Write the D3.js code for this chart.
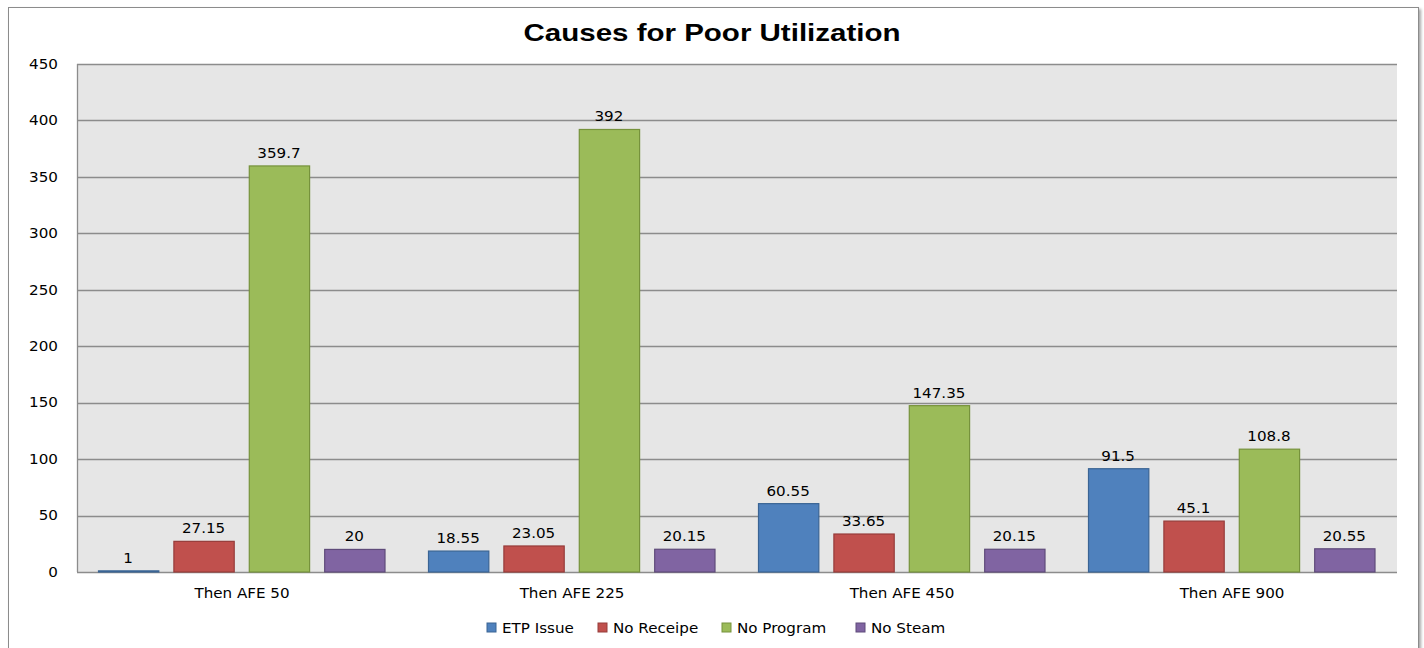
<!DOCTYPE html>
<html>
<head>
<meta charset="utf-8">
<script src="https://cdn.jsdelivr.net/npm/d3@7"></script>
<style>
  html, body { margin: 0; padding: 0; background: #ffffff; }
  svg { display: block; }
</style>
</head>
<body>
<svg id="chart" width="1424" height="648"></svg>
<script>
// Chart data
const categories = ["Then AFE 50", "Then AFE 225", "Then AFE 450", "Then AFE 900"];
const seriesNames = ["ETP Issue", "No Receipe", "No Program", "No Steam"];
const etpIssue   = [1, 18.55, 60.55, 91.5];
const noReceipe  = [27.15, 23.05, 33.65, 45.1];
const noProgram  = [359.7, 392, 147.35, 108.8];
const noSteam    = [20, 20.15, 20.15, 20.55];
const yTicks = [0, 50, 100, 150, 200, 250, 300, 350, 400, 450];

const seriesValues = [etpIssue, noReceipe, noProgram, noSteam];
const fills   = ["#4F81BD", "#C0504D", "#9BBB59", "#8064A2"];
const strokes = ["#3A6494", "#963C3A", "#76923C", "#5F4B7A"];

const svg = d3.select("#chart");
const plot = { left: 77, right: 1397, top: 64, bottom: 572 };
const font = "'DejaVu Sans', Verdana, sans-serif";
const widen = 1.12; // text is drawn slightly wide

// Stretch a text selection horizontally by the widen factor
function stretch(sel) {
  sel.each(function() {
    const len = this.getComputedTextLength();
    d3.select(this).attr("textLength", len * widen).attr("lengthAdjust", "spacingAndGlyphs");
  });
}

// Outer chart frame with a soft shadow
const defs = svg.append("defs");
const f = defs.append("filter").attr("id", "shadow").attr("x", "-2%").attr("y", "-2%").attr("width", "104%").attr("height", "104%");
f.append("feDropShadow").attr("dx", 2).attr("dy", 2).attr("stdDeviation", 1.5).attr("flood-color", "#000").attr("flood-opacity", 0.35);

svg.append("rect")
  .attr("x", 8.5).attr("y", 7.5).attr("width", 1410).attr("height", 645)
  .attr("fill", "#ffffff").attr("stroke", "#8c8c8c").attr("stroke-width", 1)
  .attr("filter", "url(#shadow)");

// Title
svg.append("text")
  .attr("x", 712).attr("y", 41)
  .attr("text-anchor", "middle")
  .attr("font-family", "'Liberation Sans', Arial, sans-serif")
  .attr("font-weight", "bold")
  .attr("font-size", 24)
  .attr("fill", "#000")
  .attr("textLength", 377)
  .attr("lengthAdjust", "spacingAndGlyphs")
  .text("Causes for Poor Utilization");

// Scales
const y = d3.scaleLinear().domain([0, 450]).range([plot.bottom, plot.top]);
const x0 = d3.scaleBand().domain(categories).range([plot.left, plot.right]).padding(0);
const x1 = d3.scaleBand().domain(seriesNames).range([21, 307.5]).paddingInner(0.2).paddingOuter(0);

// Plot background
svg.append("rect")
  .attr("x", plot.left).attr("y", plot.top)
  .attr("width", plot.right - plot.left).attr("height", plot.bottom - plot.top)
  .attr("fill", "#E6E6E6");

// Horizontal gridlines
svg.append("g")
  .selectAll("line")
  .data(yTicks)
  .join("line")
  .attr("x1", plot.left).attr("x2", plot.right)
  .attr("y1", d => Math.round(y(d)) + 0.5).attr("y2", d => Math.round(y(d)) + 0.5)
  .attr("stroke", "#8c8c8c").attr("stroke-width", 1.3);

// Left axis line
svg.append("line")
  .attr("x1", plot.left + 0.5).attr("x2", plot.left + 0.5)
  .attr("y1", plot.top).attr("y2", plot.bottom)
  .attr("stroke", "#8c8c8c").attr("stroke-width", 1.3);

// Y axis labels
const yAxis = d3.axisLeft(y).tickValues(yTicks).tickSize(0).tickPadding(19);
const gy = svg.append("g").attr("transform", `translate(${plot.left},0)`).call(yAxis);
gy.select(".domain").remove();
gy.selectAll("text")
  .attr("font-family", font).attr("font-size", 13.5).attr("fill", "#000")
  .call(stretch);

// X axis labels
const xAxis = d3.axisBottom(x0).tickSize(0).tickPadding(16);
const gx = svg.append("g").attr("transform", `translate(0,${plot.bottom})`).call(xAxis);
gx.select(".domain").remove();
gx.selectAll("text")
  .attr("font-family", font).attr("font-size", 13.5).attr("fill", "#000")
  .call(stretch);

// Bars and value labels
const groups = svg.append("g")
  .selectAll("g")
  .data(categories)
  .join("g")
  .attr("transform", d => `translate(${x0(d)},0)`);

const cells = ci => seriesNames.map((s, si) => ({ series: s, si, value: seriesValues[si][ci] }));

groups.each(function(c, ci) {
  const g = d3.select(this);
  const data = cells(ci);
  g.selectAll("rect")
    .data(data)
    .join("rect")
    .attr("x", d => x1(d.series) + 0.5)
    .attr("y", d => y(d.value))
    .attr("width", x1.bandwidth())
    .attr("height", d => y(0) - y(d.value))
    .attr("fill", d => fills[d.si])
    .attr("stroke", d => strokes[d.si])
    .attr("stroke-width", 1.2);
  g.selectAll("text")
    .data(data)
    .join("text")
    .attr("x", d => x1(d.series) + x1.bandwidth() / 2)
    .attr("y", d => y(d.value) - 8)
    .attr("text-anchor", "middle")
    .attr("font-family", font).attr("font-size", 13.5).attr("fill", "#000")
    .text(d => d.value)
    .call(stretch);
});

// Legend
const legendX = [487, 598, 722, 856];
const legend = svg.append("g")
  .selectAll("g")
  .data(seriesNames)
  .join("g")
  .attr("transform", (d, i) => `translate(${legendX[i]},628)`);
legend.append("rect")
  .attr("x", 0).attr("y", -5).attr("width", 9).attr("height", 9)
  .attr("fill", (d, i) => fills[i]).attr("stroke", (d, i) => strokes[i]).attr("stroke-width", 1);
legend.append("text")
  .attr("x", 15).attr("y", 5)
  .attr("font-family", font).attr("font-size", 13.5).attr("fill", "#000")
  .text(d => d)
  .call(stretch);
</script>
</body>
</html>
